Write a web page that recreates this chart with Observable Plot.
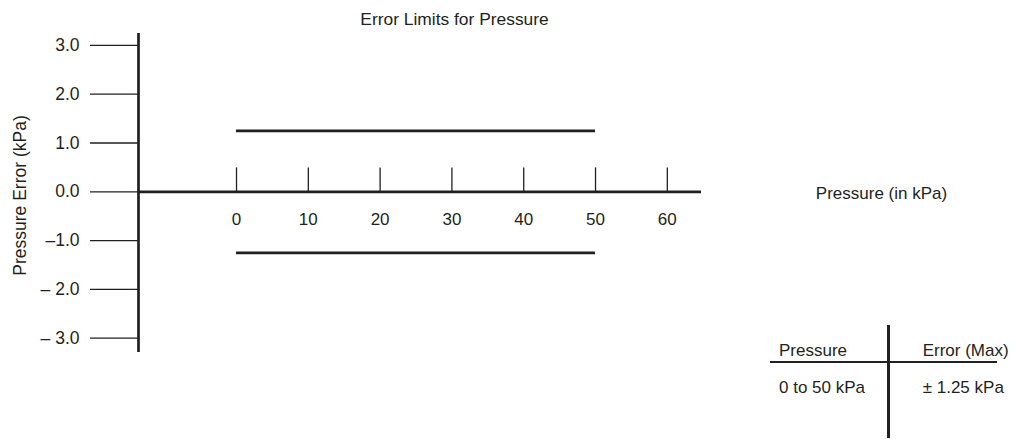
<!DOCTYPE html>
<html><head><meta charset="utf-8">
<script src="https://cdn.jsdelivr.net/npm/d3@7"></script>
<script src="https://cdn.jsdelivr.net/npm/@observablehq/plot@0.6"></script>
<style>
html,body{margin:0;padding:0;background:#fff;}
#wrap{position:relative;width:1016px;height:439px;font-family:"Liberation Sans",Arial,sans-serif;color:#231f20;}
#wrap svg{display:block;}
.t{position:absolute;font-size:17px;line-height:17px;white-space:nowrap;}
.ln{position:absolute;background:#231f20;}
</style></head><body><div id="wrap"></div>
<script>
// ---- data ----
const title = "Error Limits for Pressure";
const yAxisTitle = "Pressure Error (kPa)";
const xAxisTitle = "Pressure (in kPa)";
const yTicks = [3, 2, 1, 0, -1, -2, -3];
const yTickLabels = ["3.0", "2.0", "1.0", "0.0", "–1.0", "– 2.0", "– 3.0"];
const xTicks = [0, 10, 20, 30, 40, 50, 60];
const xTickLabels = ["0", "10", "20", "30", "40", "50", "60"];
const limitValues = [1.25, -1.25];
const pressureRange = [0, 50];
const tableHeader = ["Pressure", "Error (Max)"];
const tableRow = ["0 to 50 kPa", "± 1.25 kPa"];
// axis extents (domain of the drawn axis lines)
const xExtent = [-13.65, 64.76];
const yExtent = [-3.293, 3.244];

const ink = "#231f20";
const font = '"Liberation Sans", Arial, sans-serif';
const yLabelOf = new Map(yTicks.map((t, i) => [t, yTickLabels[i]]));
const xTickLen = 0.49; // tick length in y units

const limits = limitValues.map(v => ({y: v, x1: pressureRange[0], x2: pressureRange[1]}));
const xTickData = xTicks.map((t, i) => ({x: t, label: xTickLabels[i]}));

const chart = Plot.plot({
  width: 1016,
  height: 439,
  marginLeft: 138,
  marginRight: 315,
  marginTop: 33,
  marginBottom: 87,
  x: {domain: xExtent, axis: null},
  y: {domain: yExtent},
  style: {fontFamily: font, fontSize: "17px", color: ink, background: "white", overflow: "visible"},
  marks: [
    Plot.axisY({ticks: yTicks, tickSize: 48, tickPadding: 11, tickFormat: d => yLabelOf.get(d),
      label: null, stroke: ink, strokeWidth: 1.3, fill: ink, fontSize: 17.5}),
    Plot.ruleX([xExtent[0]], {stroke: ink, strokeWidth: 2.7}),
    Plot.ruleY([0], {stroke: ink, strokeWidth: 2.7}),
    Plot.ruleX(xTickData, {x: "x", y1: 0, y2: xTickLen, stroke: ink, strokeWidth: 1.3}),
    Plot.text(xTickData, {x: "x", y: 0, text: "label", dy: 28, fill: ink, fontSize: 17, lineAnchor: "middle"}),
    Plot.ruleY(limits, {y: "y", x1: "x1", x2: "x2", stroke: ink, strokeWidth: 2.8}),
    Plot.text([title], {frameAnchor: "top", textAnchor: "middle", lineAnchor: "middle", dx: 34.5, dy: -13.6, fill: ink, fontSize: 17.4}),
    Plot.text([yAxisTitle], {frameAnchor: "left", textAnchor: "middle", lineAnchor: "middle", rotate: -90, dx: -118, dy: 2.5, fill: ink, fontSize: 17.5}),
    Plot.text([xAxisTitle], {frameAnchor: "right", textAnchor: "middle", lineAnchor: "middle", dx: 180, dy: 1, fill: ink, fontSize: 17})
  ]
});
const wrap = document.getElementById("wrap");
wrap.appendChild(chart);

// ---- table (HTML overlay) ----
function addDiv(cls, css, text) {
  const d = document.createElement("div");
  d.className = cls;
  Object.assign(d.style, css);
  if (text != null) d.textContent = text;
  wrap.appendChild(d);
}
addDiv("ln", {left: "887.3px", top: "325px", width: "2.7px", height: "113px"});
addDiv("ln", {left: "770px", top: "361px", width: "227px", height: "1.5px"});
const colLeft = [779, 922.7];
const rowTop = [342.3, 378.6];
[tableHeader, tableRow].forEach((row, r) => row.forEach((txt, c) => {
  addDiv("t", {left: colLeft[c] + "px", top: rowTop[r] + "px"}, txt);
}));
</script></body></html>
